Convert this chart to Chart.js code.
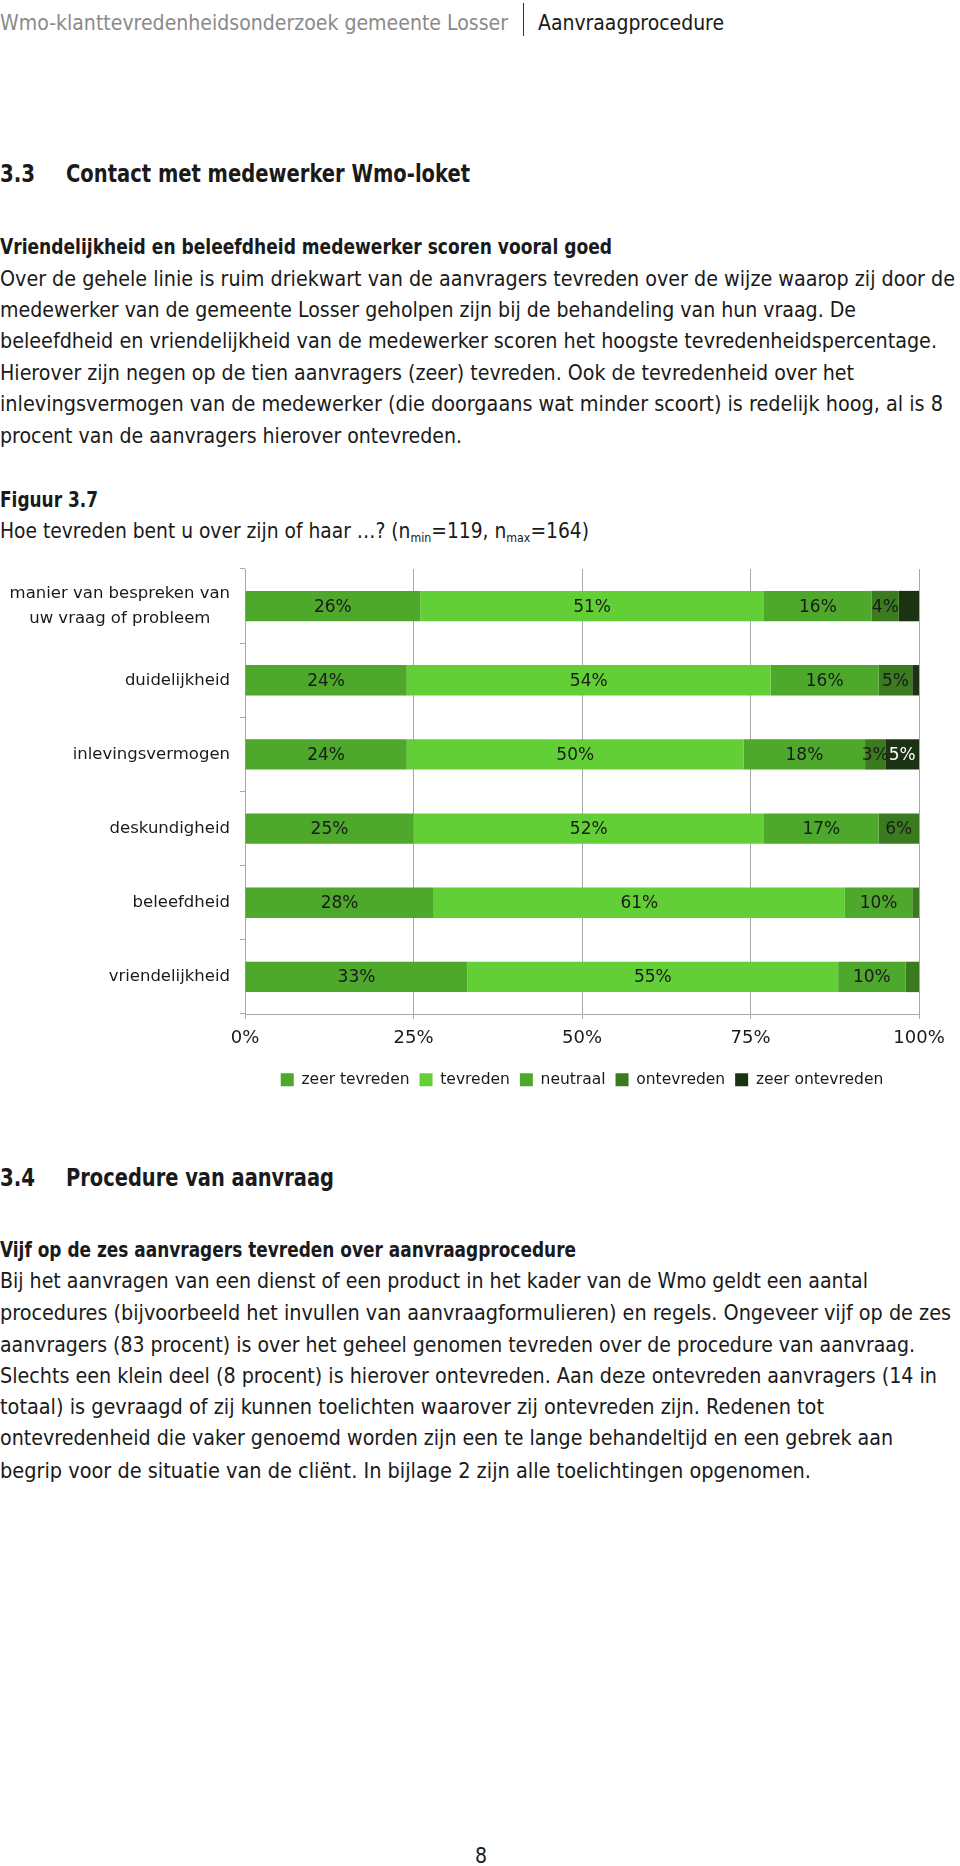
<!DOCTYPE html>
<html>
<head>
<meta charset="utf-8">
<script src="https://cdn.jsdelivr.net/npm/chart.js@4"></script>
<style>
  html, body { margin: 0; padding: 0; background: #fff; }
  body { width: 960px; height: 1866px; position: relative; overflow: hidden;
         font-family: "Liberation Sans Narrow", "DejaVu Sans Condensed", "Liberation Sans", sans-serif;
         color: #1a1a1a; }
  .ln { position: absolute; white-space: nowrap; height: 30px; line-height: 30px;
        font-size: 22px; transform-origin: 0 50%; }
  .b { font-weight: bold; }
  .h { font-weight: bold; font-size: 25px; }
  .grey { color: #8a8a8a; }
  .sep { position: absolute; left: 523px; top: 3px; width: 1px; height: 33px; background: #333; }
  sub { font-size: 13px; vertical-align: -4px; line-height: 0; }
  #chartBox { position: absolute; left: 0; top: 560px; width: 960px; height: 540px; }
</style>
</head>
<body>
<!-- page header -->
<div class="ln grey" style="left:0;top:8px" data-w="508">Wmo-klanttevredenheidsonderzoek gemeente Losser</div>
<div class="sep"></div>
<div class="ln" style="left:538px;top:8px" data-w="186">Aanvraagprocedure</div>

<!-- 3.3 -->
<div class="ln h" style="left:0;top:159px" data-w="35">3.3</div>
<div class="ln h" style="left:66px;top:159px" data-w="404">Contact met medewerker Wmo-loket</div>

<div class="ln b" style="left:0;top:232px" data-w="612">Vriendelijkheid en beleefdheid medewerker scoren vooral goed</div>
<div class="ln" style="left:0;top:264px" data-w="955">Over de gehele linie is ruim driekwart van de aanvragers tevreden over de wijze waarop zij door de</div>
<div class="ln" style="left:0;top:295px" data-w="856">medewerker van de gemeente Losser geholpen zijn bij de behandeling van hun vraag. De</div>
<div class="ln" style="left:0;top:326px" data-w="937">beleefdheid en vriendelijkheid van de medewerker scoren het hoogste tevredenheidspercentage.</div>
<div class="ln" style="left:0;top:358px" data-w="854">Hierover zijn negen op de tien aanvragers (zeer) tevreden. Ook de tevredenheid over het</div>
<div class="ln" style="left:0;top:389px" data-w="943">inlevingsvermogen van de medewerker (die doorgaans wat minder scoort) is redelijk hoog, al is 8</div>
<div class="ln" style="left:0;top:421px" data-w="462">procent van de aanvragers hierover ontevreden.</div>

<div class="ln b" style="left:0;top:485px" data-w="98">Figuur 3.7</div>
<div class="ln" style="left:0;top:516px" data-w="589">Hoe tevreden bent u over zijn of haar …? (n<sub>min</sub>=119, n<sub>max</sub>=164)</div>

<div id="chartBox"><canvas id="chart" width="960" height="540"></canvas></div>

<!-- 3.4 -->
<div class="ln h" style="left:0;top:1163px" data-w="35">3.4</div>
<div class="ln h" style="left:66px;top:1163px" data-w="268">Procedure van aanvraag</div>

<div class="ln b" style="left:0;top:1235px" data-w="576">Vijf op de zes aanvragers tevreden over aanvraagprocedure</div>
<div class="ln" style="left:0;top:1266px" data-w="868">Bij het aanvragen van een dienst of een product in het kader van de Wmo geldt een aantal</div>
<div class="ln" style="left:0;top:1298px" data-w="951">procedures (bijvoorbeeld het invullen van aanvraagformulieren) en regels. Ongeveer vijf op de zes</div>
<div class="ln" style="left:0;top:1330px" data-w="915">aanvragers (83 procent) is over het geheel genomen tevreden over de procedure van aanvraag.</div>
<div class="ln" style="left:0;top:1361px" data-w="937">Slechts een klein deel (8 procent) is hierover ontevreden. Aan deze ontevreden aanvragers (14 in</div>
<div class="ln" style="left:0;top:1392px" data-w="824">totaal) is gevraagd of zij kunnen toelichten waarover zij ontevreden zijn. Redenen tot</div>
<div class="ln" style="left:0;top:1423px" data-w="893">ontevredenheid die vaker genoemd worden zijn een te lange behandeltijd en een gebrek aan</div>
<div class="ln" style="left:0;top:1456px" data-w="811">begrip voor de situatie van de cliënt. In bijlage 2 zijn alle toelichtingen opgenomen.</div>

<div class="ln" style="left:475px;top:1841px;font-size:21px">8</div>

<script>
// Figuur 3.7 data (percentages per aspect)
const categories = [
  ['manier van bespreken van', 'uw vraag of probleem'],
  'duidelijkheid', 'inlevingsvermogen', 'deskundigheid', 'beleefdheid', 'vriendelijkheid'
];
const seriesNames = ['zeer tevreden', 'tevreden', 'neutraal', 'ontevreden', 'zeer ontevreden'];
const zeerTevreden   = [26, 24, 24, 25, 28, 33];
const tevreden       = [51, 54, 50, 52, 61, 55];
const neutraal       = [16, 16, 18, 17, 10, 10];
const ontevreden     = [4, 5, 3, 6, 1, 2];
const zeerOntevreden = [3, 1, 5, 0, 0, 0];
const xTicks = [0, 25, 50, 75, 100];
// labels left out in the original figure: [category index, series index]
const unlabeled = [[0, 4]];

// fit every text line to its width in the original page
document.querySelectorAll('[data-w]').forEach(el => {
  const w = el.getBoundingClientRect().width;
  el.style.transform = 'scaleX(' + (el.dataset.w / w) + ')';
});

const FONT = '"DejaVu Sans", sans-serif';
const colors = ['#4da82b', '#63cf36', '#4da82b', '#3a7b1f', '#1c3311'];
const labelColors = ['#1a1a1a', '#1a1a1a', '#1a1a1a', '#1a1a1a', '#ffffff'];
const values = [zeerTevreden, tevreden, neutraal, ontevreden, zeerOntevreden];

// category labels: block right-aligned to the axis, lines centred in the block
const categoryLabels = {
  id: 'categoryLabels',
  afterDraw(chart) {
    const ctx = chart.ctx, y = chart.scales.y;
    ctx.save();
    ctx.font = '16.5px ' + FONT;
    ctx.fillStyle = '#1a1a1a';
    ctx.textAlign = 'center';
    ctx.textBaseline = 'middle';
    categories.forEach((c, i) => {
      const lines = Array.isArray(c) ? c : [c];
      const maxW = Math.max(...lines.map(l => ctx.measureText(l).width));
      const cx = 230 - maxW / 2;
      const cy = y.getPixelForValue(i);
      const lh = 25;
      lines.forEach((l, k) => ctx.fillText(l, cx, cy + (k - (lines.length - 1) / 2) * lh));
    });
    ctx.restore();
  }
};

// percentage labels in the middle of every segment
const segmentLabels = {
  id: 'segmentLabels',
  afterDatasetsDraw(chart) {
    const ctx = chart.ctx;
    ctx.save();
    ctx.font = '17px ' + FONT;
    ctx.textAlign = 'center';
    ctx.textBaseline = 'middle';
    chart.data.datasets.forEach((ds, si) => {
      chart.getDatasetMeta(si).data.forEach((bar, ci) => {
        const v = ds.data[ci];
        if (v < 3 || unlabeled.some(u => u[0] === ci && u[1] === si)) return;
        ctx.fillStyle = labelColors[si];
        ctx.fillText(v + '%', (bar.x + bar.base) / 2, bar.y + 1);
      });
    });
    ctx.restore();
  }
};

new Chart(document.getElementById('chart'), {
  type: 'bar',
  data: {
    labels: categories,
    datasets: seriesNames.map((name, i) => ({
      label: name,
      data: values[i],
      backgroundColor: colors[i],
      borderWidth: 0,
      barPercentage: 0.41,
      categoryPercentage: 1
    }))
  },
  options: {
    indexAxis: 'y',
    responsive: false,
    animation: false,
    devicePixelRatio: 1,
    layout: { padding: { top: 9, right: 41, bottom: 2.5, left: 0 } },
    scales: {
      x: {
        stacked: true,
        min: 0,
        max: 100,
        afterBuildTicks: s => { s.ticks = xTicks.map(v => ({ value: v })); },
        afterFit: s => { s.height = 48; },
        grid: { color: '#a8a8a8', lineWidth: 1, tickLength: 5 },
        border: { color: '#a8a8a8' },
        ticks: {
          padding: 9,
          color: '#1a1a1a',
          font: { family: FONT, size: 18 },
          callback: v => v + '%'
        }
      },
      y: {
        stacked: true,
        afterFit: s => { s.width = 245; },
        grid: { offset: true, drawOnChartArea: false, color: '#a8a8a8', tickLength: 5 },
        border: { color: '#a8a8a8' },
        ticks: { display: false }
      }
    },
    plugins: {
      legend: {
        position: 'bottom',
        fullSize: false,
        labels: {
          boxWidth: 13,
          boxHeight: 13,
          padding: 10,
          color: '#1a1a1a',
          font: { family: FONT, size: 15.5 }
        }
      },
      tooltip: { enabled: false }
    }
  },
  plugins: [categoryLabels, segmentLabels]
});
</script>
</body>
</html>
